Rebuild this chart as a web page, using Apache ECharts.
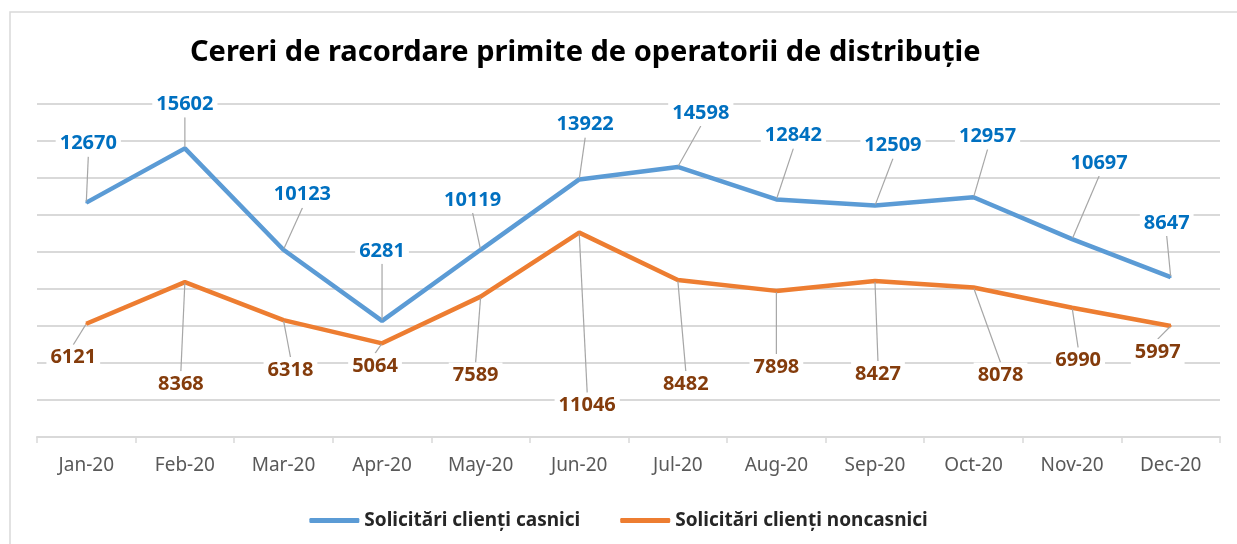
<!DOCTYPE html>
<html>
<head>
<meta charset="utf-8">
<script src="https://cdn.jsdelivr.net/npm/echarts@6/dist/echarts.min.js"></script>
<style>
html, body { margin: 0; padding: 0; background: #fff; }
#chart { width: 1237px; height: 544px; }
</style>
</head>
<body>
<div id="chart"></div>
<script>
var months = ['Jan-20', 'Feb-20', 'Mar-20', 'Apr-20', 'May-20', 'Jun-20', 'Jul-20', 'Aug-20', 'Sep-20', 'Oct-20', 'Nov-20', 'Dec-20'];
var seriesNames = ['Solicitări clienți casnici', 'Solicitări clienți noncasnici'];
var casnici = [12670, 15602, 10123, 6281, 10119, 13922, 14598, 12842, 12509, 12957, 10697, 8647];
var noncasnici = [6121, 8368, 6318, 5064, 7589, 11046, 8482, 7898, 8427, 8078, 6990, 5997];

// where each callout sits relative to its point (Excel moved them by hand)
var casniciLabelShift = [[2, -59], [0, -44], [19, -55], [0, -70], [-8, -50], [6, -55], [23, -54], [17, -64], [18, -60], [14, -61], [27, -76], [-4, -54]];
var noncasniciLabelShift = [[-13, 34], [-4, 102], [7, 50], [-7, 23], [-5, 79], [8, 173], [8, 104], [0, 76], [3, 93], [27, 88], [6, 53], [-13, 26]];

var colors = ['#5B9BD5', '#ED7D31'];
var labelColors = ['#0070C0', '#843C0C'];

function makeSeries(i, data, shift) {
    return {
        name: seriesNames[i],
        type: 'line',
        data: data,
        symbol: 'circle',
        symbolSize: 2,
        showSymbol: true,
        itemStyle: { color: colors[i] },
        lineStyle: { color: colors[i], width: 4.5 },
        label: {
            show: true,
            position: 'inside',
            color: labelColors[i],
            fontFamily: 'Noto Sans',
            fontWeight: 'bold',
            fontSize: 20,
            backgroundColor: '#fff',
            padding: [3, 4]
        },
        labelLine: {
            show: true,
            lineStyle: { color: '#A6A6A6', width: 1.2 }
        },
        labelLayout: function (p) {
            var s = shift[p.dataIndex];
            return { dx: s[0], dy: s[1] };
        },
        emphasis: { disabled: true },
        animation: false
    };
}

var option = {
    animation: false,
    color: colors,
    title: {
        text: 'Cereri de racordare primite de operatorii de distribuție',
        left: 185,
        top: 33,
        textStyle: {
            fontFamily: 'Noto Sans',
            fontWeight: 'bold',
            fontSize: 29,
            color: '#000'
        }
    },
    graphic: [{
        type: 'rect',
        shape: { x: 10, y: 12, width: 1240, height: 540 },
        style: { fill: 'none', stroke: '#D9D9D9', lineWidth: 1.5 },
        silent: true
    }],
    legend: {
        data: seriesNames,
        left: 'center',
        top: 506,
        icon: 'roundRect',
        itemWidth: 50,
        itemHeight: 5,
        itemGap: 40,
        textStyle: {
            fontFamily: 'Noto Sans',
            fontWeight: 'bold',
            fontSize: 19,
            color: '#262626'
        }
    },
    grid: {
        left: 37,
        right: 17,
        top: 104,
        bottom: 107
    },
    xAxis: {
        type: 'category',
        data: months,
        boundaryGap: true,
        axisLine: { lineStyle: { color: '#D9D9D9', width: 2 } },
        axisTick: { show: true, length: 6, lineStyle: { color: '#D9D9D9', width: 1.5 } },
        axisLabel: {
            color: '#595959',
            fontFamily: 'Noto Sans',
            fontSize: 19,
            margin: 19
        }
    },
    yAxis: {
        type: 'value',
        min: 0,
        max: 18000,
        interval: 2000,
        axisLabel: { show: false },
        axisLine: { show: false },
        axisTick: { show: false },
        splitLine: { lineStyle: { color: '#D9D9D9', width: 2 } }
    },
    series: [
        makeSeries(0, casnici, casniciLabelShift),
        makeSeries(1, noncasnici, noncasniciLabelShift)
    ]
};

var chart = echarts.init(document.getElementById('chart'));
chart.setOption(option);
</script>
</body>
</html>
